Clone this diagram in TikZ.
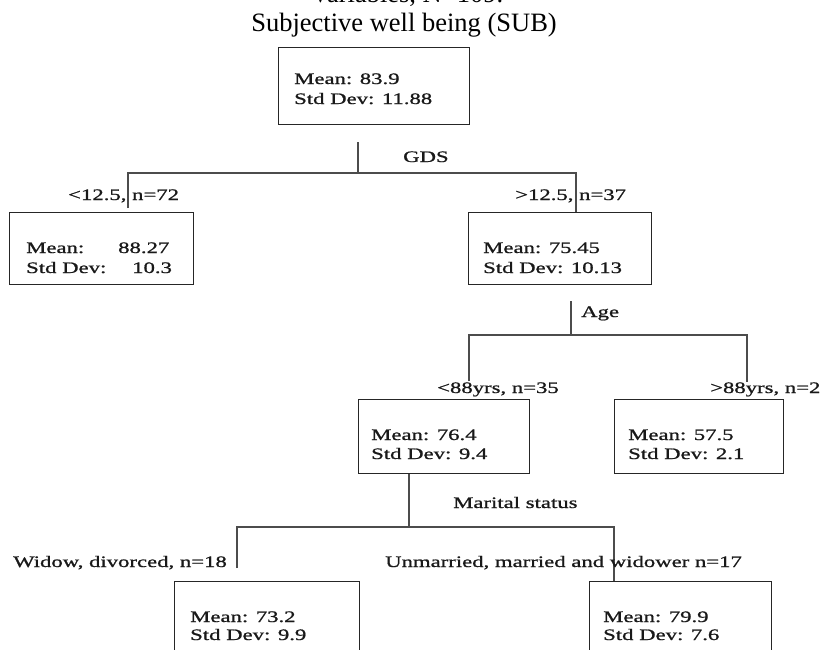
\documentclass[tikz,border=0pt]{standalone}
\usepackage{fontspec}
\setmainfont{Liberation Serif}
\newfontfamily\boxfont[FakeStretch=1.42,FakeBold=1]{Liberation Serif}
\tikzset{
  box/.style={draw=black!85, line width=1.2pt, anchor=north west, inner sep=0pt},
  lbl/.style={font=\boxfont\fontsize{16}{20}\selectfont, anchor=base west, inner sep=0pt, text=black!90},
  ttl/.style={font=\fontsize{26.5}{30}\selectfont, anchor=base, inner sep=0pt},
  conn/.style={draw=black!70, line width=1.3pt}
}
\begin{document}
\begin{tikzpicture}[x=1pt,y=-1pt]
\useasboundingbox (0,0) rectangle (822,649);
\clip (0,0) rectangle (822,649);
\fill[white] (0,0) rectangle (822,649);

% titles
\node[ttl] (t0) at (407,2) {Variables, N=109.};
\node[ttl] (t1) at (404,31) {Subjective well being (SUB)};

% boxes
\node[box, minimum width=191pt, minimum height=77pt] (root) at (278,47) {};
\node[box, minimum width=184pt, minimum height=72pt] (lo) at (9,212) {};
\node[box, minimum width=183pt, minimum height=72pt] (hi) at (468,212) {};
\node[box, minimum width=171pt, minimum height=74pt] (young) at (358,399) {};
\node[box, minimum width=169pt, minimum height=74pt] (old) at (614,399) {};
\node[box, minimum width=185pt, minimum height=90pt] (wid) at (174,581) {};
\node[box, minimum width=182pt, minimum height=90pt] (mar) at (589,581) {};

% box texts
\node[lbl] (rootm) at (294,84) {Mean: 83.9};
\node[lbl] (roots) at (294,104) {Std Dev: 11.88};
\node[lbl] (lom1) at (26,253) {Mean:};
\node[lbl] (lom2) at (118,253) {88.27};
\node[lbl] (los1) at (26,273) {Std Dev:};
\node[lbl] (los2) at (132,273) {10.3};
\node[lbl] (him) at (483,253) {Mean: 75.45};
\node[lbl] (his) at (483,273) {Std Dev: 10.13};
\node[lbl] (youm) at (371,440) {Mean: 76.4};
\node[lbl] (yous) at (371,459) {Std Dev: 9.4};
\node[lbl] (oldm) at (628,440) {Mean: 57.5};
\node[lbl] (olds) at (628,459) {Std Dev: 2.1};
\node[lbl] (widm) at (190,622) {Mean: 73.2};
\node[lbl] (wids) at (190,640) {Std Dev: 9.9};
\node[lbl] (marm) at (603,622) {Mean: 79.9};
\node[lbl] (mars) at (603,640) {Std Dev: 7.6};

% connector coordinates
\coordinate (g0) at (358,142);
\coordinate (g1) at (358,173);
\coordinate (gL) at (128,173);
\coordinate (gR) at (576,173);
\coordinate (gLd) at (128,208);
\coordinate (a0) at (571,301);
\coordinate (a1) at (571,335);
\coordinate (aL) at (469,335);
\coordinate (aR) at (747,335);
\coordinate (aLd) at (469,381);
\coordinate (aRd) at (747,382);
\coordinate (m1) at (409,527);
\coordinate (mL) at (237,527);
\coordinate (mR) at (614,527);
\coordinate (mLd) at (237,568);

% connectors
\draw[conn] (g0) -- (g1);
\draw[conn] (gLd) -- (gL) -- (gR) -- (gR |- hi.north);
\draw[conn] (a0) -- (a1);
\draw[conn] (aLd) -- (aL) -- (aR) -- (aRd);
\draw[conn] (young.south -| m1) -- (m1);
\draw[conn] (mLd) -- (mL) -- (mR) -- (mR |- mar.north);

% split labels
\node[lbl] (gds) at (403,162) {GDS};
\node[lbl] (glo) at (68,200) {<12.5, n=72};
\node[lbl] (ghi) at (515,200) {>12.5, n=37};
\node[lbl] (age) at (581,317) {Age};
\node[lbl] (alo) at (437,393) {<88yrs, n=35};
\node[lbl] (ahi) at (710,393) {>88yrs, n=2};
\node[lbl] (ms) at (453,508) {Marital status};
\node[lbl] (mlo) at (13,567) {Widow, divorced, n=18};
\node[lbl] (mhi) at (385,567) {Unmarried, married and widower n=17};
\end{tikzpicture}
\end{document}
